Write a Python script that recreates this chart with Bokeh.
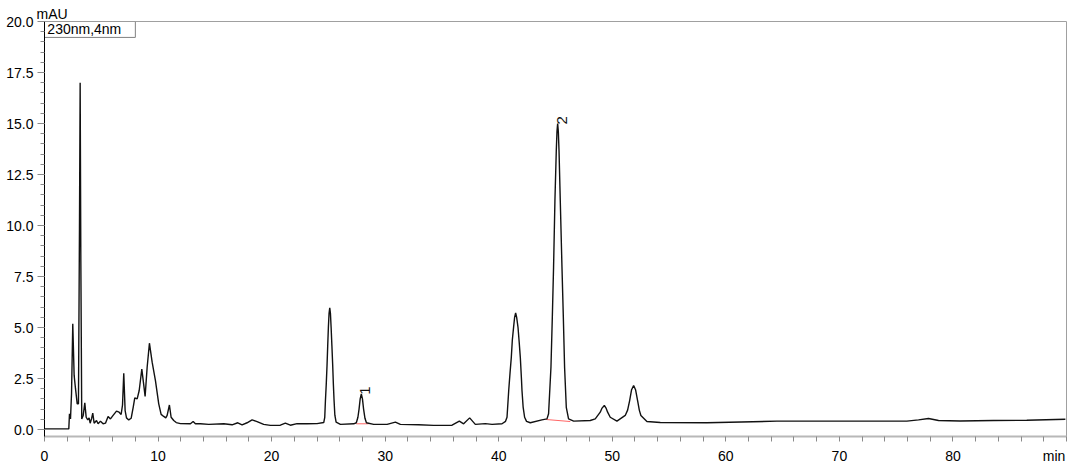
import math
from bokeh.plotting import figure
from bokeh.models import Range1d, FixedTicker, PrintfTickFormatter
from bokeh.core.properties import value
from bokeh.embed import file_html
from bokeh.resources import INLINE

# ---- data ----
time_min = [
    0.0, 2.14, 2.2, 2.29, 2.38, 2.49, 2.61, 2.73, 2.88, 2.99, 3.08, 3.14, 3.2, 3.28,
    3.41, 3.55, 3.67, 3.81, 3.93, 4.02, 4.14, 4.25, 4.37, 4.58, 4.72, 4.93, 5.16,
    5.37, 5.6, 5.81, 6.04, 6.34, 6.57, 6.75, 6.87, 6.98, 7.1, 7.22, 7.42, 7.63,
    7.81, 7.95, 8.16, 8.34, 8.57, 8.71, 8.86, 9.04, 9.24, 9.48, 9.77, 10.06,
    10.27, 10.5, 10.68, 10.8, 11.0, 11.15, 11.38, 11.6, 11.97, 12.85, 13.09,
    13.29, 13.73, 14.47, 15.79, 16.52, 17.02, 17.4, 17.84, 18.28, 18.72, 19.3,
    19.89, 20.77, 21.21, 21.65, 22.24, 23.12, 24.0, 24.59, 24.68, 24.74, 24.81,
    24.88, 24.94, 25.0, 25.06, 25.12, 25.18, 25.24, 25.31, 25.38, 25.44, 25.5,
    25.57, 25.68, 26.06, 27.23, 27.46, 27.6, 27.7, 27.8, 27.9, 28.0, 28.1, 28.22,
    28.35, 28.99, 30.17, 30.9, 31.34, 32.95, 34.27, 35.89, 36.53, 36.91, 37.44,
    37.94, 38.82, 39.41, 40.29, 40.6, 40.73, 40.88, 41.0, 41.11, 41.2, 41.31,
    41.4, 41.49, 41.58, 41.7, 41.8, 41.9, 42.0, 42.05, 42.15, 42.28, 42.45,
    42.78, 43.8, 44.25, 44.39, 44.6, 44.72, 44.83, 44.95, 45.07, 45.13, 45.19,
    45.25, 45.31, 45.42, 45.57, 45.69, 45.8, 45.95, 46.15, 46.6, 48.06, 48.5,
    48.94, 49.1, 49.3, 49.45, 49.59, 49.82, 50.41, 51.14, 51.35, 51.53, 51.7,
    51.88, 52.05, 52.23, 52.38, 52.52, 53.05, 54.23, 58.33, 64.5, 68.9, 75.94,
    76.97, 77.85, 78.73, 80.63, 83.57, 86.5, 89.9,
]
signal_mau = [
    0.03, 0.03, 0.77, 0.52, 1.75, 5.18, 2.65, 2.0, 1.26, 1.26, 9.9, 17.0, 8.3, 0.52,
    0.69, 1.31, 0.6, 0.47, 0.57, 0.31, 0.52, 0.8, 0.31, 0.44, 0.28, 0.41, 0.28,
    0.31, 0.64, 0.52, 0.69, 0.9, 0.85, 0.74, 1.2, 2.76, 0.93, 0.57, 0.47, 0.55,
    1.09, 1.55, 1.5, 1.91, 2.96, 2.32, 1.62, 3.05, 4.23, 3.3, 2.4, 1.26,
    0.74, 0.64, 0.57, 0.69, 1.2, 0.6, 0.44, 0.34, 0.29, 0.28, 0.39,
    0.28, 0.28, 0.25, 0.28, 0.23, 0.33, 0.23, 0.33, 0.47, 0.39, 0.25,
    0.2, 0.21, 0.31, 0.21, 0.29, 0.28, 0.29, 0.34, 0.6, 1.42, 2.2,
    3.14, 4.1, 5.01, 5.7, 5.96, 5.7, 5.01, 4.1, 3.14, 2.2, 1.42,
    0.7, 0.36, 0.25, 0.28, 0.33, 0.6, 1.0, 1.5, 1.75, 1.5, 1.0, 0.55,
    0.33, 0.25, 0.25, 0.36, 0.25, 0.23, 0.2, 0.21, 0.41, 0.28, 0.57,
    0.25, 0.29, 0.25, 0.28, 0.4, 0.6, 1.91, 2.8, 3.55, 4.4, 5.02,
    5.5, 5.72, 5.5, 5.0, 4.3, 3.55, 2.5, 1.9, 1.1, 0.6, 0.4,
    0.33, 0.47, 0.52, 0.77, 3.05, 5.5, 7.96, 11.23, 13.68, 14.6, 15.0,
    14.6, 13.68, 11.23, 7.96, 5.5, 3.05, 1.09, 0.52, 0.41, 0.44, 0.52,
    0.85, 1.05, 1.18, 1.05, 0.85, 0.6, 0.41, 0.69, 0.95, 1.42, 1.95,
    2.16, 1.95, 1.42, 0.95, 0.69, 0.39, 0.34, 0.33, 0.41, 0.41, 0.41,
    0.47, 0.54, 0.44, 0.42, 0.44, 0.45, 0.5,
]

peak_ids = ["1", "2"]
peak_time = [27.9, 45.19]
peak_height = [1.75, 15.0]
base_start_t = [27.46, 44.19]
base_start_v = [0.28, 0.49]
base_end_t = [28.55, 46.3]
base_end_v = [0.28, 0.39]

x_major = [0, 10, 20, 30, 40, 50, 60, 70, 80]
x_unit_pos = 88.91
x_minor = list(range(0, 91, 2))
y_major = [0.0, 2.5, 5.0, 7.5, 10.0, 12.5, 15.0, 17.5, 20.0]
y_minor = [i * 0.5 for i in range(0, 41)]
y_unit = "mAU"
x_unit = "min"
channel = "230nm,4nm"

FONT = "Liberation Sans"

p = figure(
    frame_width=1022, frame_height=415,
    x_range=Range1d(0, 90), y_range=Range1d(-0.343, 20.0),
    output_backend="svg", toolbar_location=None,
    min_border_left=44, min_border_right=14, min_border_top=21, min_border_bottom=33,
)
p.xgrid.visible = False
p.ygrid.visible = False
p.outline_line_color = "#a0a0a0"
p.outline_line_width = 1
p.background_fill_color = "white"
p.border_fill_color = "white"

# y unit as a left-aligned title just above the frame
p.title.text = y_unit
p.title.align = "left"
p.title.offset = -8
p.title.standoff = 0
p.title.text_font = FONT
p.title.text_font_size = "14px"
p.title.text_font_style = "normal"
p.title.text_color = "black"

# x axis: labelled ticks, with the unit at the right end
xa = p.xaxis[0]
xa.ticker = FixedTicker(ticks=x_major + [x_unit_pos], minor_ticks=x_minor)
xa.major_label_overrides = {x_unit_pos: x_unit}
xa.axis_line_color = "#b8b8b8"
xa.axis_line_width = 2
xa.major_tick_line_color = None
xa.minor_tick_line_color = "#8a8a8a"
xa.major_tick_in = 0
xa.major_tick_out = 5
xa.minor_tick_in = 0
xa.minor_tick_out = 5
xa.major_label_standoff = 6
xa.major_label_text_font = FONT
xa.major_label_text_font_size = "14px"
xa.major_label_text_color = "black"

# y axis
ya = p.yaxis[0]
ya.ticker = FixedTicker(ticks=y_major, minor_ticks=y_minor)
ya.formatter = PrintfTickFormatter(format="%.1f")
ya.axis_line_color = "black"
ya.axis_line_width = 1
ya.major_tick_line_color = "#8a8a8a"
ya.minor_tick_line_color = "#8a8a8a"
ya.major_tick_in = 0
ya.major_tick_out = 7
ya.minor_tick_in = 0
ya.minor_tick_out = 4
ya.major_label_standoff = 4
ya.major_label_text_font = FONT
ya.major_label_text_font_size = "14px"
ya.major_label_text_color = "black"

# integration baselines
p.segment(x0=base_start_t, y0=base_start_v, x1=base_end_t, y1=base_end_v,
          line_color="#ff6666", line_width=1)

# chromatogram trace
p.line(time_min, signal_mau, line_color="#111111", line_width=1.4)

# peak numbers
p.text(x=peak_time, y=peak_height, text=peak_ids, angle=math.pi / 2,
       x_offset=-1, y_offset=1,
       text_align="left", text_baseline="top",
       text_font=value(FONT), text_font_size="15px", text_color="#111111")

# channel box
p.quad(left=[0], right=[8.0], bottom=[19.22], top=[20.0],
       fill_color="white", line_color="#808080", line_width=1)
p.text(x=[0.25], y=[19.61], text=[channel], text_baseline="middle",
       text_align="left", text_font=value(FONT), text_font_size="14px",
       text_color="black")

open("out.html", "w").write(file_html(p, INLINE))
